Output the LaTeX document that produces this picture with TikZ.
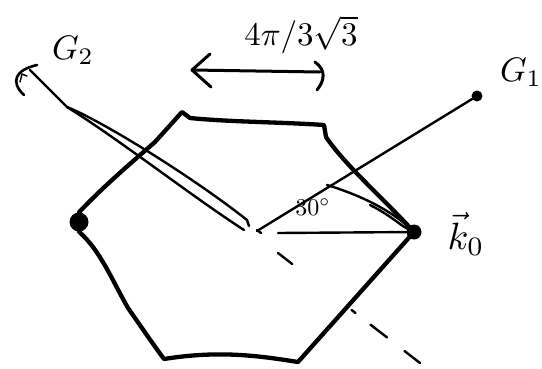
\documentclass[tikz,border=0pt]{standalone}
\usepackage{amsmath}
\usepackage{graphicx}
\begin{document}
\begin{tikzpicture}[x=1pt,y=-1pt,
  hex/.style={line width=4.3pt,line cap=round,line join=round},
  thin line/.style={line width=2.4pt,line cap=round,line join=round},
  bigdot/.style={circle,fill=black,inner sep=0pt,minimum size=15pt},
  smalldot/.style={circle,fill=black,inner sep=0pt,minimum size=11pt},
  lbl/.style={inner sep=0pt}]
\useasboundingbox (0,0) rectangle (542,368);
% points
\coordinate (O) at (257,231);
\node[bigdot] (K) at (414,232) {};
\node[bigdot,minimum width=13pt,minimum height=19pt] (L) at (79,222) {};
\node[smalldot] (G1) at (477,96) {};
\coordinate (G2) at (30,70);
\coordinate (A) at (182,112);
\coordinate (B) at (324,125);
\coordinate (C) at (298,362);
\coordinate (D) at (164,359);
% hexagon
\draw[hex] (L.north) .. controls (100,190) and (125,168) .. (155,142) -- (A)
  -- (190,118) .. controls (230,122) and (280,122) .. (B) -- (326,137)
  .. controls (345,165) and (380,195) .. (K.center)
  -- (C) .. controls (260,356) and (220,350) .. (D)
  .. controls (150,340) and (140,325) .. (128,308)
  .. controls (112,280) and (100,250) .. (L.south);
% G1 line
\draw[thin line] (O) -- (G1);
\draw[thin line] (O) ++(0,-1) -- ++(4,3);
% G2 double stroke
\draw[thin line] (G2) -- (67,107) .. controls (100,120) and (190,175) .. (247,220) -- (249,226);
\draw[thin line] (67,107) .. controls (120,140) and (190,195) .. (244,230);
% G2 arrow end
\draw[thin line,line width=2.6pt] (24,95) .. controls (10,82) and (15,70) .. (37,65);
\draw[line width=1.4pt,line cap=round] (20,82) -- (22,74) -- (27,76);
% horizontal line to K
\draw[thin line] (278,233) -- (K);
% angle arc
\draw[thin line] (327,185) .. controls (360,195) and (390,210) .. (K);
\draw[thin line] (370,205) .. controls (390,215) and (400,225) .. (K);
\node[lbl] (ang) at (313,207) {\scalebox{2.4}{$30^{\circ}$}};
% dashed line
\draw[thin line,dash pattern=on 18pt off 75pt on 5pt off 19pt on 21pt off 22pt on 20pt]
  (278,253) -- (420,363);
% top arrow
\coordinate (P1) at (192,70);
\coordinate (P2) at (320,72);
\draw[thin line,line width=3pt] (P1) -- (P2);
\draw[thin line,line width=3pt] (210,54) -- (P1) -- (211,87);
\draw[thin line,line width=3pt] (315,62) .. controls (326,70) and (325,80) .. (317,90);
\node[lbl] (len) at (301,35) {\scalebox{3.3}{$4\pi/3\sqrt{3}$}};
% labels
\node[lbl] (lG1) at (521,72) {\scalebox{3.4}{$G_1$}};
\node[lbl] (lG2) at (73,50) {\scalebox{3.4}{$G_2$}};
\node[lbl] (lK) at (466,234) {\scalebox{3.8}{$\vec{k}_0$}};
\end{tikzpicture}
\end{document}
